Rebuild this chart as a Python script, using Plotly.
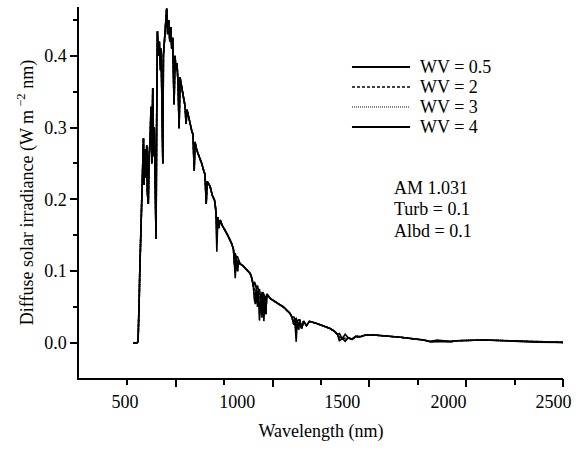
import plotly.graph_objects as go

# ---------------- data ----------------
wavelength = [280, 290, 300, 305, 308, 311, 314, 317, 320, 323, 327, 333, 336, 341, 344, 350, 353, 358,
              362, 367, 372, 376, 381, 384, 389, 393, 398, 401, 405, 410, 415, 421, 424, 427, 433, 436,
              441, 446, 453, 458, 463, 469, 474, 479, 484, 491, 496, 501, 506, 512, 517, 522, 527, 532,
              539, 548, 553, 558, 565, 574, 582, 589, 595, 599, 608, 620, 634, 646, 651, 657, 662, 677,
              689, 700, 707, 712, 717, 722, 729, 741, 755, 772, 789, 798, 803, 807, 812, 819, 824, 832,
              845, 858, 872, 884, 893, 901, 906, 911, 916, 922, 927, 932, 940, 945, 950, 955, 960, 965,
              970, 987, 1020, 1056, 1090, 1100, 1110, 1115, 1122, 1126, 1135, 1140, 1150, 1160, 1175,
              1190, 1228, 1260, 1297, 1320, 1335, 1345, 1360, 1375, 1390, 1410, 1430, 1453, 1480, 1522,
              1574, 1660, 1746, 1780, 1815, 1850, 1918, 1953, 2090, 2194, 2297, 2366, 2500]

irr_wv4 = [0.0, 0.0, 0.0, 0.002, 0.02, 0.06, 0.10, 0.13, 0.18, 0.20, 0.24, 0.285, 0.22, 0.27, 0.23, 0.275,
           0.21, 0.194, 0.26, 0.28, 0.329, 0.25, 0.355, 0.26, 0.30, 0.22, 0.145, 0.30, 0.434, 0.40, 0.42,
           0.38, 0.41, 0.36, 0.25, 0.40, 0.42, 0.44, 0.466, 0.43, 0.45, 0.42, 0.44, 0.41, 0.425, 0.332,
           0.40, 0.38, 0.39, 0.36, 0.299, 0.37, 0.36, 0.355, 0.343, 0.33, 0.305, 0.325, 0.315, 0.305,
           0.296, 0.29, 0.24, 0.28, 0.269, 0.26, 0.25, 0.238, 0.235, 0.194, 0.225, 0.218, 0.205, 0.199,
           0.185, 0.127, 0.175, 0.16, 0.171, 0.163, 0.157, 0.148, 0.138, 0.13, 0.11, 0.09, 0.12, 0.10,
           0.115, 0.11, 0.108, 0.104, 0.10, 0.0968, 0.09, 0.078, 0.06, 0.054, 0.075, 0.05, 0.073, 0.031,
           0.06, 0.035, 0.07, 0.03, 0.065, 0.04, 0.068, 0.062, 0.056, 0.050, 0.041, 0.036, 0.025, 0.033,
           0.0014, 0.03, 0.018, 0.032, 0.02, 0.03, 0.024, 0.03, 0.027, 0.024, 0.020, 0.016, 0.012, 0.003,
           0.006, 0.002, 0.007, 0.005, 0.009, 0.0085, 0.011, 0.011, 0.010, 0.0078, 0.005, 0.004, 0.0017,
           0.0015, 0.0017, 0.003, 0.004, 0.003, 0.0017, 0.001, 0.0007]

# values that differ from WV = 4 inside the water-vapour bands
bands_wv05 = {712: 0.17, 807: 0.125, 819: 0.12, 906: 0.085, 911: 0.082, 922: 0.08, 932: 0.075,
              945: 0.07, 955: 0.068, 1110: 0.036, 1122: 0.034, 1135: 0.032, 1345: 0.013,
              1375: 0.012, 1850: 0.004}
bands_wv2 = {712: 0.15, 807: 0.105, 906: 0.07, 911: 0.066, 922: 0.064, 932: 0.05, 945: 0.05,
             955: 0.045, 1122: 0.015, 1135: 0.026, 1345: 0.008, 1375: 0.006, 1850: 0.0025}
bands_wv3 = {712: 0.138, 807: 0.097, 906: 0.064, 911: 0.06, 922: 0.056, 932: 0.04, 945: 0.042,
             955: 0.037, 1122: 0.007, 1135: 0.022, 1345: 0.005, 1375: 0.004, 1850: 0.002}

series_names = ["WV = 0.5", "WV = 2", "WV = 3", "WV = 4"]
series_dash = ["solid", "3px,2px", "1px,1px", "solid"]
series_width = [2.2, 1.6, 1.2, 2.2]

x_label_vals = [237, 817, 1360, 1908, 2451]   # where the printed labels sit
x_label_text = ["500", "1000", "1500", "2000", "2500"]
x_major = [500, 1000, 1500, 2000, 2500]
x_minor = [250, 750, 1250, 1750, 2250]
y_ticks = [0.0, 0.1, 0.2, 0.3, 0.4]
notes = ["AM 1.031", "Turb = 0.1", "Albd = 0.1"]
note_y = [0.2157, 0.1865, 0.156]

# ----------------------------------------------------------------
def apply(base, over):
    return [over.get(w, v) for w, v in zip(wavelength, base)]

series = [apply(irr_wv4, bands_wv05), apply(irr_wv4, bands_wv2),
          apply(irr_wv4, bands_wv3), irr_wv4]

FONT = "Liberation Serif"
fig = go.Figure()
for name, ys, dash in zip(series_names, series, series_dash):
    fig.add_trace(go.Scatter(x=wavelength, y=ys, mode="lines", name=name, showlegend=False,
                             line=dict(color="black", width=1.6, dash=dash)))

# invisible helper trace on the overlay axis (long major ticks)
fig.add_trace(go.Scatter(x=[0, 2500], y=[0, 0], xaxis="x2", mode="lines",
                         line=dict(width=0), showlegend=False, hoverinfo="skip"))

fig.update_layout(
    width=580, height=450,
    margin=dict(l=79, r=17, t=7, b=72),
    paper_bgcolor="white", plot_bgcolor="white",
    font=dict(family=FONT, size=18, color="black"),
    showlegend=False,
    xaxis=dict(range=[0, 2500], showgrid=False, zeroline=False,
               showline=True, linecolor="black", linewidth=1.5,
               tickmode="array", tickvals=x_label_vals, ticktext=x_label_text,
               ticks="", ticklabelstandoff=7,
               minor=dict(tickvals=x_minor, ticks="outside", ticklen=5,
                          tickwidth=1.5, tickcolor="black"),
               title=dict(text="Wavelength (nm)", font=dict(size=18), standoff=13)),
    xaxis2=dict(range=[0, 2500], overlaying="x", anchor="y", side="bottom",
                showgrid=False, zeroline=False, showline=False,
                tickmode="array", tickvals=x_major, ticks="outside", ticklen=8,
                tickwidth=1.5, tickcolor="black", showticklabels=False),
    yaxis=dict(range=[-0.049, 0.468], showgrid=False, zeroline=False,
               showline=True, linecolor="black", linewidth=1.5,
               tickmode="array", tickvals=y_ticks, tickformat=".1f",
               ticks="outside", ticklen=7, tickwidth=1.5, tickcolor="black",
               minor=dict(dtick=0.05, tick0=0, ticks="outside", ticklen=4,
                          tickwidth=1.5, tickcolor="black"),
               title=dict(text="Diffuse solar irradiance (W m<sup> \u22122</sup> nm)",
                          font=dict(size=18), standoff=6)),
)

# legend key (line samples + labels), placed in paper coordinates
key_rows = [0.8383, 0.7844, 0.7305, 0.6765]
for name, dash, w, yy in zip(series_names, series_dash, series_width, key_rows):
    fig.add_shape(type="line", xref="paper", yref="paper", x0=0.564, x1=0.684, y0=yy, y1=yy,
                  line=dict(color="black", width=w, dash=dash))
    fig.add_annotation(x=0.700, y=yy, xref="paper", yref="paper", text=name, showarrow=False,
                       xanchor="left", yanchor="middle", font=dict(size=18, family=FONT))

for txt, yv in zip(notes, note_y):
    fig.add_annotation(x=1618, y=yv, xref="x", yref="y", text=txt, showarrow=False,
                       xanchor="left", yanchor="middle", font=dict(size=18, family=FONT))

fig.write_html("out.html")
